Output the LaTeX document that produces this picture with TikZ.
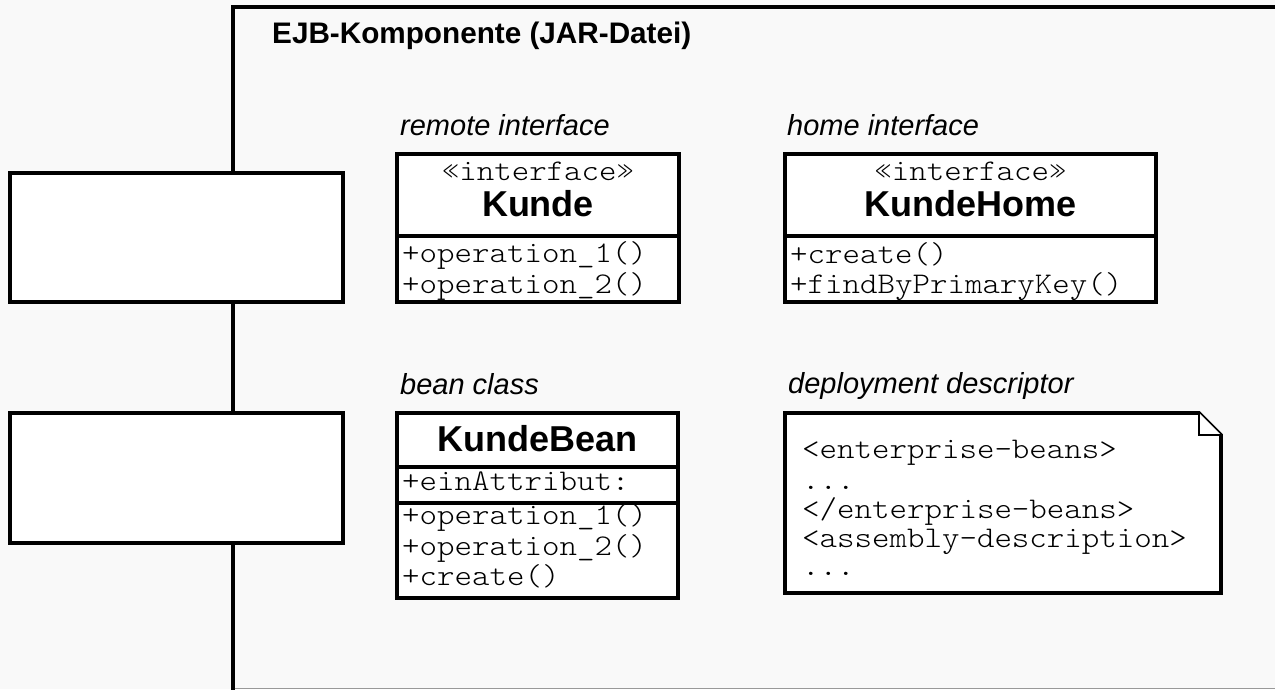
\documentclass[tikz,border=0pt]{standalone}
\usepackage{fontspec}
\setmainfont{Liberation Sans}
\newfontfamily\codefamily{lmmonolt10-regular.otf}[FakeStretch=1.11]
\newcommand\lblfont{\fontsize{29}{33}\selectfont\itshape}
\newcommand\titlefont{\fontsize{29.7}{33}\selectfont\bfseries}
\newcommand\clsfont{\fontsize{36}{40}\selectfont\bfseries}
\newcommand\codefont{\codefamily\fontsize{30}{30}\selectfont}
\definecolor{bg}{HTML}{F9F9F9}
\tikzset{
  box/.style={draw, line width=3.8pt, fill=white, inner sep=0pt, outer sep=0pt, anchor=north west},
  sep/.style={line width=3.8pt},
  lbl/.style={font=\lblfont, anchor=base west, inner sep=0pt},
  cls/.style={font=\clsfont, anchor=base, inner sep=0pt},
  stereo/.style={font=\codefont, anchor=base, inner sep=0pt},
  member/.style={font=\codefont, anchor=base west, inner sep=0pt},
  anchorbox/.style={inner sep=0pt, outer sep=0pt, anchor=north west},
}
\begin{document}
\begin{tikzpicture}[x=1pt,y=-1pt]
\useasboundingbox (0,0) rectangle (1275,689);
\fill[bg] (0,0) rectangle (1275,689);

% component frame (left and top edges, open to the right)
\coordinate (fr) at (1280,6.5);
\coordinate (ftl) at (232.5,6.5);
\coordinate (fbl) at (232.5,692);
\draw[line width=4pt, line join=miter] (fr) -- (ftl) -- (fbl);
\coordinate (gb1) at (234.5,688.5);
\coordinate (gb2) at (1275,688.5);
\draw[black!40, line width=1.2pt] (gb1) -- (gb2);
\node[font=\titlefont, anchor=base west, inner sep=0pt] (title) at (272,43) {EJB-Komponente (JAR-Datei)};

% interface boxes on the frame edge
\node[box, minimum width=333, minimum height=129] (port1) at (10,173) {};
\node[box, minimum width=333, minimum height=130] (port2) at (10,413) {};

% remote interface
\node[lbl] (lremote) at (400,135) {remote interface};
\node[box, minimum width=282, minimum height=148] (kunde) at (397,154) {};
\draw[sep] (kunde.west |- 0,236) -- (kunde.east |- 0,236);
\node[stereo] (kst) at (538,180) {«interface»};
\node[cls] (kname) at (538,216) {Kunde};
\node[member] (kop1) at (402,262) {+operation\_1()};
\node[member] (kop2) at (402,293) {+operation\_2()};

% home interface
\node[lbl] (lhome) at (787,135) {home interface};
\node[box, minimum width=371, minimum height=148] (home) at (785,154) {};
\draw[sep] (home.west |- 0,236) -- (home.east |- 0,236);
\node[stereo] (hst) at (970.5,180) {«interface»};
\node[cls] (hname) at (970.5,216) {KundeHome};
\node[member] (hop1) at (790,263) {+create()};
\node[member] (hop2) at (790,293) {+findByPrimaryKey()};

% bean class
\node[lbl] (lbean) at (400,394) {bean class};
\node[box, minimum width=281, minimum height=185] (bean) at (397,413) {};
\draw[sep] (bean.west |- 0,467) -- (bean.east |- 0,467);
\draw[sep] (bean.west |- 0,503) -- (bean.east |- 0,503);
\node[cls] (bname) at (537.5,451) {KundeBean};
\node[member] (battr) at (402,490) {+einAttribut:};
\node[member] (bop1) at (402,524) {+operation\_1()};
\node[member] (bop2) at (402,555) {+operation\_2()};
\node[member] (bop3) at (402,585) {+create()};

% deployment descriptor note
\node[lbl] (ldesc) at (788,393) {deployment descriptor};
\node[anchorbox, minimum width=436, minimum height=180] (note) at (785,413) {};
\draw[line width=3.8pt, line join=miter, fill=white]
  (note.north west) -- ([xshift=-22pt]note.north east) -- ([yshift=-22pt]note.north east)
  -- (note.south east) -- (note.south west) -- cycle;
\draw[line width=2.4pt, line join=miter, fill=white]
  ([xshift=-22pt]note.north east) -- ([xshift=-22pt,yshift=-22pt]note.north east) -- ([yshift=-22pt]note.north east);
\node[member] (dd1) at (802,458) {<enterprise-beans>};
\node[member] (dd2) at (802,489) {...};
\node[member] (dd3) at (802,518) {</enterprise-beans>};
\node[member] (dd4) at (802,547) {<assembly-description>};
\node[member] (dd5) at (802,575) {...};
\end{tikzpicture}
\end{document}
